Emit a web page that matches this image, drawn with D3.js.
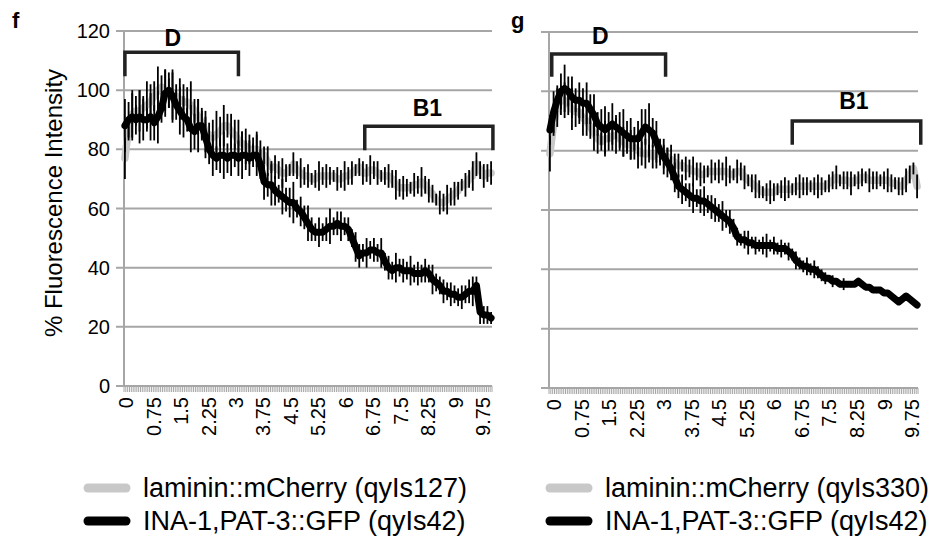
<!DOCTYPE html>
<html>
<head>
<meta charset="utf-8">
<script src="https://cdn.jsdelivr.net/npm/d3@7"></script>
<style>
  body { margin: 0; background: white; }
  svg { display: block; font-family: "Liberation Sans", Arial, sans-serif; }
</style>
</head>
<body>
<div id="chart"></div>
<script>
// category axis: sampling every 0.05, labelled every 0.75
const categories = d3.range(201).map(i => +(i * 0.05).toFixed(2));
const tickLabels = ["0", "0.75", "1.5", "2.25", "3", "3.75", "4.5", "5.25", "6", "6.75", "7.5", "8.25", "9", "9.75"];
const yTicks = [0, 20, 40, 60, 80, 100, 120];

// values read at every 0.1 (every second category)
const leftLaminin = [77,87,92,93,93,94,95,96,98,100, 101,100,99,98,98,97,96,96,95,93,
  91,89,86,85,84,85,86,88,88,86, 85,83,82,81,80,80,80,79,78,76,
  74,74,73,72,72,73,75,73,72,71, 71,70,70,71,71,71,71,71,70,70,
  71,71,72,73,74,72,72,73,73,72, 71,71,71,70,68,67,67,67,67,68,
  68,69,68,66,65,63,62,62,63,64, 65,66,68,68,70,71,75,73,71,72, 72];
const leftLamininErr = [7,4,8,5,7,4,8,6,5,8, 4,7,5,8,4,7,6,5,8,4, 6,
  5,7,4,6,8,5,7,4,6,5, 7,4,6,5,4,6,
  4,3,5,2,4,3,5,3,2,4, 3,5,3,4,2,3,5,3,4,3, 2,4,3,5,3,4,2,3,4,3,
  5,3,4,2,3,4,3,5,3,4, 3,2,4,3,5,3,4,3,2,4, 3,5,3,4,3,2,4,3,5,4, 3,4,3,4];
const leftIna = [88,90,91,90,91,90,90,91,89,91, 94,99,100,98,95,93,91,90,87,86,
  88,88,84,80,78,77,78,78,77,78, 78,77,78,78,77,78,78,75,69,68,
  68,66,65,64,63,62,62,60,59,57, 55,53,52,52,52,53,54,54,55,54,
  54,53,50,47,44,45,45,46,46,45, 45,42,40,39,40,40,39,39,39,38,
  38,38,39,38,36,35,34,32,32,31, 31,30,30,31,32,32,34,25,24,24, 23];
const leftInaErr = [9,6,8,5,9,7,4,8,6,9, 5,8,6,9,5,8,7,4,8,6, 9,5,7,
  5,7,4,6,8,5,7,4,6,8, 5,6,4,7,5,
  6,4,7,5,3,6,4,5,7,3, 5,4,6,
  4,3,5,3,4,6,3,4,5,3, 4,3,5,4,3,5,3,4,3,5,
  3,4,3,5,3,4,3,5,3,4, 3,4,3,5,3,3,4,3,4,3, 3,4,3,4,5,3,4,3,3,2];

const rightLaminin = [79,89,95,97,97,96,94,93,93,91, 90,88,86,84,83,84,84,85,85,84,
  83,82,82,81,80,79,79,79,78,79, 79,78,78,77,76,75,75,74,74,73,
  73,72,72,73,73,73,73,73,73,72, 72,73,73,71,70,69,68,67,66,66,
  66,66,67,67,67,67,67,68,68,68, 68,68,68,68,68,68,69,70,71,70,
  70,70,69,70,70,71,71,70,70,70, 70,70,70,69,69,68,68,70,72,74, 68];
const rightLamininErr = [6,4,7,5,6,4,7,5,4,6,5,
  4,6,5,3,6,4,5,6,4,5, 3,5,4,6,4,5,3,4,5,4,
  4,3,5,3,4,2,4,3,5,3, 4,3,2,4,3,4,3,5,3,2, 4,3,4,2,3,4,3,2,3,4,
  3,2,3,4,3,2,3,4,3,3, 2,3,4,3,2,3,3,4,2,3, 3,4,2,3,3,2,4,3,3,2, 3,4,3,2,3,3,4,3,2,4];
const rightIna = [87,93,97,100,101,100,98,97,97,96, 96,94,92,89,88,87,88,89,88,87,
  86,85,84,84,84,86,88,87,86,83, 80,78,76,74,71,68,67,66,65,64,
  64,63,63,62,61,60,59,58,57,56, 54,51,50,50,49,49,48,48,48,48,
  48,48,47,47,47,46,45,43,42,41, 41,40,40,39,38,37,37,36,36,35,
  35,35,35,35,36,35,34,34,33,33, 33,32,32,31,30,29,30,31,30,29, 28];
const rightInaErr = [5,7,4,6,8,5,7,4,6,5,7,
  5,7,4,6,8,5,7,4,6,8, 5,7,4,6,8,6,9,5,7,4, 6,5,4,5,
  4,5,3,4,5,3,4,5,3,4, 4,3,5,3,4,3,
  3,2,3,4,2,3,2,3,4,2, 3,2,3,2,3,2,3,2,2,3, 2,3,2,2,2,
  1,2,1,1,2,1,1,1,1,1, 1,1,1,1,1,1,1,1,1,1, 1,1,1,1,1];

// brackets: [start, end] on x, [top, leg end] on y, label position
const leftBrackets = [
  { label: "D", x: [0, 3.1], y: [112.8, 104.7], labelX: 1.31, labelY: 115 },
  { label: "B1", x: [6.55, 10.05], y: [87.8, 79.7], labelX: 8.26, labelY: 91.3 }
];
const rightBrackets = [
  { label: "D", x: [0.05, 3.15], y: [112.6, 104.9], labelX: 1.37, labelY: 116 },
  { label: "B1", x: [6.6, 10.1], y: [90, 82], labelX: 8.28, labelY: 94 }
];

const width = 935;
const height = 543;
const grey = "#c8c8c8";
const axisGrey = "#a6a6a6";

const svg = d3.select("#chart").append("svg")
  .attr("width", width)
  .attr("height", height);

function drawPanel(opts) {
  const x = d3.scaleBand()
    .domain(d3.range(categories.length))
    .range([opts.left, opts.right])
    .padding(0);
  const y = d3.scaleLinear().domain([0, 120]).range([opts.bottom, opts.top]);
  const bw = x.bandwidth();
  const xt = t => x(Math.round(t / 0.05)) + bw / 2;
  const xEdge = t => x(0) + (t / 0.05 + 0.5) * bw;

  const g = svg.append("g");

  // gridlines + y axis
  g.append("g")
    .selectAll("line")
    .data(yTicks.filter(d => d > 0))
    .join("line")
    .attr("x1", opts.left - 8)
    .attr("x2", opts.right)
    .attr("y1", d => y(d))
    .attr("y2", d => y(d))
    .attr("stroke", axisGrey)
    .attr("stroke-width", 2);

  g.append("line")
    .attr("x1", opts.left).attr("x2", opts.left)
    .attr("y1", y(0)).attr("y2", y(120))
    .attr("stroke", axisGrey).attr("stroke-width", 2);

  // x axis with a tick per category
  g.append("line")
    .attr("x1", opts.left - 8).attr("x2", opts.right)
    .attr("y1", y(0)).attr("y2", y(0))
    .attr("stroke", axisGrey).attr("stroke-width", 2);
  g.append("g")
    .selectAll("line")
    .data(d3.range(categories.length + 1))
    .join("line")
    .attr("x1", i => opts.left + i * bw)
    .attr("x2", i => opts.left + i * bw)
    .attr("y1", y(0))
    .attr("y2", y(0) + 6)
    .attr("stroke", axisGrey)
    .attr("stroke-width", 1);

  if (opts.yLabels) {
    g.append("g")
      .selectAll("text")
      .data(yTicks)
      .join("text")
      .attr("x", opts.left - 14)
      .attr("y", d => y(d))
      .attr("dy", "0.35em")
      .attr("text-anchor", "end")
      .attr("font-size", 20)
      .text(d => d);
  }

  g.append("g")
    .selectAll("text")
    .data(tickLabels)
    .join("text")
    .attr("transform", d => `translate(${xt(parseFloat(d)) + opts.labelShift}, ${y(0) + 11}) rotate(-90)`)
    .attr("dy", "0.36em")
    .attr("text-anchor", "end")
    .attr("font-size", 20)
    .text(d => d);

  // series: grey first, then black, error bars on top of each
  const series = [
    { values: opts.laminin, err: opts.lamininErr, color: grey, width: 7.5 },
    { values: opts.ina, err: opts.inaErr, color: "black", width: 7 }
  ];
  const line = d3.line()
    .x((d, j) => xt(categories[j * 2]))
    .y(d => y(d))
    .curve(d3.curveLinear);

  series.forEach(s => {
    g.append("path")
      .datum(s.values)
      .attr("fill", "none")
      .attr("stroke", s.color)
      .attr("stroke-width", s.width)
      .attr("stroke-linejoin", "round")
      .attr("stroke-linecap", "round")
      .attr("d", line);
    g.append("g")
      .selectAll("line")
      .data(s.values)
      .join("line")
      .attr("x1", (d, j) => xt(categories[j * 2]))
      .attr("x2", (d, j) => xt(categories[j * 2]))
      .attr("y1", (d, j) => y(d - s.err[j]))
      .attr("y2", (d, j) => y(d + s.err[j]))
      .attr("stroke", "black")
      .attr("stroke-width", 1.8);
  });

  // region brackets
  opts.brackets.forEach(b => {
    const x0 = xEdge(b.x[0]), x1 = xEdge(b.x[1]);
    g.append("path")
      .attr("d", `M${x0},${y(b.y[1])}V${y(b.y[0])}H${x1}V${y(b.y[1])}`)
      .attr("fill", "none")
      .attr("stroke", "#222")
      .attr("stroke-width", 3.5);
    g.append("text")
      .attr("x", xEdge(b.labelX))
      .attr("y", y(b.labelY))
      .attr("text-anchor", "middle")
      .attr("font-size", 23)
      .attr("font-weight", "bold")
      .text(b.label);
  });

  svg.append("text")
    .attr("x", opts.letterX)
    .attr("y", 28)
    .attr("font-size", 22)
    .attr("font-weight", "bold")
    .text(opts.letter);

  // legend
  const legend = svg.append("g");
  const rows = [
    { name: opts.lamininName, color: grey, w: 9 },
    { name: "INA-1,PAT-3::GFP (qyIs42)", color: "black", w: 9 }
  ];
  rows.forEach((r, k) => {
    const ly = 488 + k * 33;
    legend.append("line")
      .attr("x1", opts.legendX).attr("x2", opts.legendX + 38)
      .attr("y1", ly).attr("y2", ly)
      .attr("stroke", r.color)
      .attr("stroke-width", r.w)
      .attr("stroke-linecap", "round");
    legend.append("text")
      .attr("x", opts.legendX + 55)
      .attr("y", ly)
      .attr("dy", "0.35em")
      .attr("font-size", 27)
      .text(r.name);
  });
}

drawPanel({
  left: 124, right: 492, top: 31, bottom: 386,
  yLabels: true, labelShift: 1,
  laminin: leftLaminin, lamininErr: leftLamininErr,
  ina: leftIna, inaErr: leftInaErr,
  brackets: leftBrackets,
  letter: "f", letterX: 12,
  lamininName: "laminin::mCherry (qyIs127)",
  legendX: 88
});

drawPanel({
  left: 549, right: 918, top: 32, bottom: 388,
  yLabels: false, labelShift: 4,
  laminin: rightLaminin, lamininErr: rightLamininErr,
  ina: rightIna, inaErr: rightInaErr,
  brackets: rightBrackets,
  letter: "g", letterX: 511,
  lamininName: "laminin::mCherry (qyIs330)",
  legendX: 550
});

svg.append("text")
  .attr("transform", "translate(62, 203) rotate(-90)")
  .attr("text-anchor", "middle")
  .attr("font-size", 24)
  .text("% Fluorescence Intensity");
</script>
</body>
</html>
